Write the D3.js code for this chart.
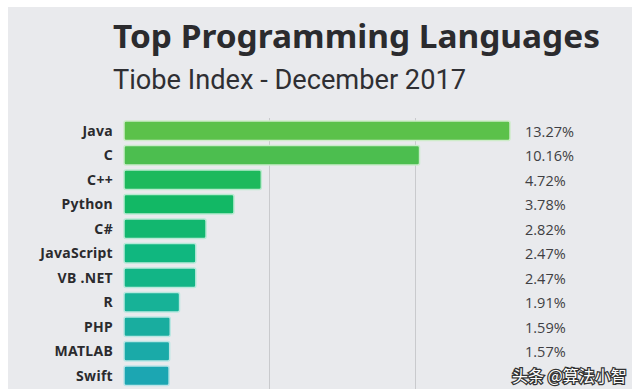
<!DOCTYPE html>
<html>
<head>
<meta charset="utf-8">
<script src="https://cdn.jsdelivr.net/npm/d3@7"></script>
<style>
  body { margin: 0; background: #fff; }
  svg { display: block; }
</style>
</head>
<body>
<svg width="640" height="392"></svg>
<script>
var languages = ["Java", "C", "C++", "Python", "C#", "JavaScript", "VB .NET", "R", "PHP", "MATLAB", "Swift"];
var shares = [13.27, 10.16, 4.72, 3.78, 2.82, 2.47, 2.47, 1.91, 1.59, 1.57, 1.55];
var shareLabels = ["13.27%", "10.16%", "4.72%", "3.78%", "2.82%", "2.47%", "2.47%", "1.91%", "1.59%", "1.57%", ""];
var barColors = ["#5bc14a", "#4cbe4f", "#1db95c", "#12b865", "#12b76f", "#10b77f", "#12b586", "#17b297", "#19ad9f", "#1aaaa8", "#1ca6b2"];
var gridTicks = [5, 10];

var svg = d3.select("svg");

// gray panel
svg.append("rect")
    .attr("x", 8).attr("y", 7)
    .attr("width", 624).attr("height", 382)
    .attr("fill", "#e9eaed");

var x = d3.scaleLinear()
    .domain([0, 13.27])
    .range([124, 510]);

var y = d3.scaleBand()
    .domain(languages)
    .range([118.5, 118.5 + languages.length * 24.5])
    .paddingInner(0.2)
    .paddingOuter(0.1);

// grid lines
svg.selectAll(".grid")
    .data(gridTicks)
    .enter().append("line")
    .attr("class", "grid")
    .attr("x1", function(d){ return Math.round(x(d)) + 0.5; })
    .attr("x2", function(d){ return Math.round(x(d)) + 0.5; })
    .attr("y1", 118)
    .attr("y2", 389)
    .attr("stroke", "#c9cacd")
    .attr("stroke-width", 1);

// titles
svg.append("text")
    .attr("x", 113).attr("y", 48)
    .attr("font-family", "Noto Sans, Open Sans, sans-serif")
    .attr("font-weight", "bold")
    .attr("font-size", 33)
    .attr("textLength", 487)
    .attr("lengthAdjust", "spacingAndGlyphs")
    .attr("fill", "#2b2b2e")
    .text("Top Programming Languages");

svg.append("text")
    .attr("x", 113).attr("y", 89)
    .attr("font-family", "Liberation Sans Narrow, Roboto, sans-serif")
    .attr("font-size", 28)
    .attr("textLength", 353)
    .attr("lengthAdjust", "spacingAndGlyphs")
    .attr("fill", "#2f2f33")
    .text("Tiobe Index - December 2017");

// bars
svg.selectAll(".bar")
    .data(shares)
    .enter().append("rect")
    .attr("class", "bar")
    .attr("x", x(0))
    .attr("y", function(d, i){ return y(languages[i]); })
    .attr("width", function(d){ return x(d) - x(0); })
    .attr("height", y.bandwidth())
    .attr("rx", 2)
    .attr("fill", function(d, i){ return barColors[i]; })
    .attr("stroke", function(d, i){ return d3.interpolateRgb(barColors[i], "#ffffff")(0.7); })
    .attr("stroke-width", 1.5);

// category labels
svg.selectAll(".lang")
    .data(languages)
    .enter().append("text")
    .attr("class", "lang")
    .attr("x", 113)
    .attr("y", function(d){ return y(d) + y.bandwidth() / 2; })
    .attr("dy", "0.35em")
    .attr("text-anchor", "end")
    .attr("font-family", "Noto Sans, Open Sans, sans-serif")
    .attr("font-weight", "bold")
    .attr("font-size", 14)
    .attr("letter-spacing", 0.3)
    .attr("fill", "#2b2b2e")
    .text(function(d){ return d; });

// value labels
svg.selectAll(".val")
    .data(shareLabels)
    .enter().append("text")
    .attr("class", "val")
    .attr("x", 525)
    .attr("y", function(d, i){ return y(languages[i]) + y.bandwidth() / 2 + 1; })
    .attr("dy", "0.35em")
    .attr("font-family", "Open Sans, Noto Sans, sans-serif")
    .attr("font-size", 14.5)
    .attr("fill", "#3f3f43")
    .text(function(d){ return d; });

// watermark
svg.append("text")
    .attr("x", 512).attr("y", 382)
    .attr("font-family", "Noto Sans CJK SC, sans-serif")
    .attr("font-size", 16)
    .attr("fill", "#ffffff")
    .attr("stroke", "#333")
    .attr("stroke-width", 2.5)
    .attr("paint-order", "stroke")
    .text("头条 @算法小智");
</script>
</body>
</html>
